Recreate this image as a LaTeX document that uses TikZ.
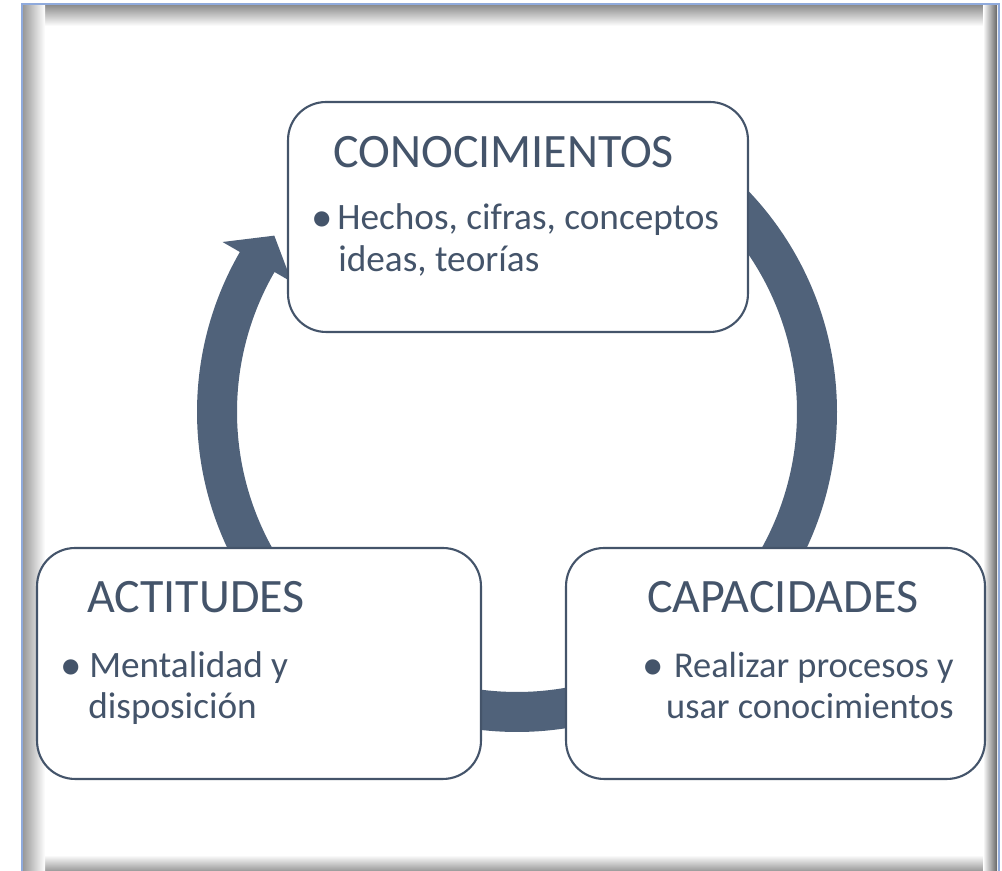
\documentclass[tikz,border=0pt]{standalone}
\usepackage{fontspec}
\setmainfont{Carlito}
\usepackage{tikz}

\definecolor{slate}{RGB}{68,84,106}
\definecolor{ringcol}{RGB}{80,98,122}
\definecolor{framecol}{RGB}{143,170,220}
\tikzset{
  box/.style={draw=slate, line width=1.2pt, rounded corners=0.76cm, fill=white},
  title/.style={anchor=base west, text=slate, inner sep=0pt, font=\fontsize{27.3}{32}\selectfont},
  item/.style={anchor=base west, text=slate, inner sep=0pt, font=\fontsize{21.2}{25}\selectfont},
  dot/.style={anchor=base, text=slate, inner sep=0pt, yshift=-0.04cm, font=\fontsize{24.5}{28}\selectfont}
}

\begin{document}
\begin{tikzpicture}[x=0.02cm, y=0.02cm]
\useasboundingbox (0,0) rectangle (1002,871);
\shade[top color=black!45, bottom color=white] (45,866) rectangle (983,845);
\shade[top color=white, bottom color=black!40] (45,0) rectangle (983,16);
\shade[left color=black!40, right color=white] (23,0) rectangle (45,866);
\shade[left color=white, right color=black!60] (983,0) rectangle (997,866);
\draw[framecol, line width=1.2pt] (22,-10) rectangle (999,867);
\coordinate (ring) at (517,459);
\foreach \a/\b/\c in {215/150/144, 60/-34/-40, -55/-119/-125} {
  \fill[ringcol, shift={(ring)}] (\a:320) arc[start angle=\a, end angle=\b, radius=320]
    -- (\b:340) -- (\c:300) -- (\b:260) -- (\b:280)
    arc[start angle=\b, end angle=\a, radius=280] -- cycle;
}
\node[box, minimum width=9.2cm, minimum height=4.6cm] (conoc) at (518,654) {};
\node[box, minimum width=8.88cm, minimum height=4.62cm] (actit) at (259,207.5) {};
\node[box, minimum width=8.38cm, minimum height=4.62cm] (capac) at (775.5,207.5) {};
\node[title] (conoc-t) at (333,703) {CONOCIMIENTOS};
\node[dot] (conoc-d) at (322,641) {•};
\node[item] (conoc-1) at (337,641) {Hechos, cifras, conceptos};
\node[item] (conoc-2) at (338,599) {ideas, teorías};
\node[title] (actit-t) at (87,258) {ACTITUDES};
\node[dot] (actit-d) at (71,193) {•};
\node[item] (actit-1) at (89,193) {Mentalidad y};
\node[item] (actit-2) at (88,152) {disposición};
\node[title] (capac-t) at (647,258) {CAPACIDADES};
\node[dot] (capac-d) at (653,193) {•};
\node[item, anchor=base east, font=\fontsize{20.7}{25}\selectfont] (capac-1) at (954,193) {Realizar procesos y};
\node[item, anchor=base east, font=\fontsize{20.7}{25}\selectfont] (capac-2) at (954,152) {usar conocimientos};
\end{tikzpicture}
\end{document}
